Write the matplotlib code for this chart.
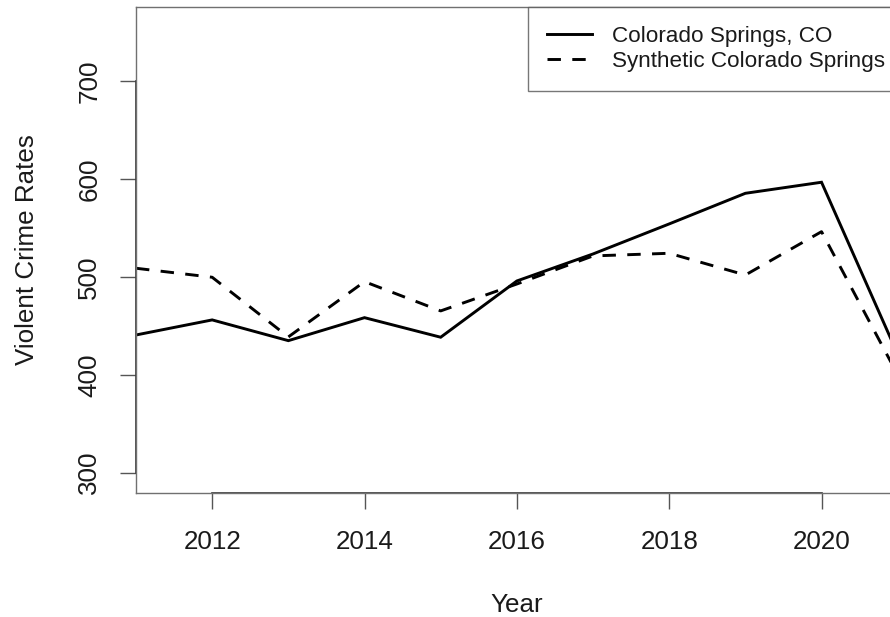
import matplotlib
matplotlib.use("Agg")
import matplotlib.pyplot as plt
import matplotlib.transforms as mtransforms

plt.rcParams['font.family'] = ['Liberation Sans', 'DejaVu Sans']

years = [2011, 2012, 2013, 2014, 2015, 2016, 2017, 2018, 2019, 2020, 2021]
actual = [440.7, 456.1, 434.9, 458.4, 438.4, 495.9, 523.5, 554.2, 585.5, 596.8, 421.0]
synthetic = [508.9, 499.7, 438.7, 495.2, 465.3, 492.8, 521.5, 524.2, 502.0, 546.3, 400.0]
series_labels = ["Colorado Springs, CO", "Synthetic Colorado Springs"]
xticks = [2012, 2014, 2016, 2018, 2020]
yticks = [300, 400, 500, 600, 700]

W, H = 890, 617
fig = plt.figure(figsize=(W / 100, H / 100), dpi=100)
left, right, top, bottom = 136, 897.7, 6.7, 493.3
ax = fig.add_axes([left / W, (H - bottom) / H, (right - left) / W, (bottom - top) / H])

txt = '#1a1a1a'
ax.plot(years, actual, color='black', lw=2.1, label=series_labels[0], solid_joinstyle='miter')
ax.plot(years, synthetic, color='black', lw=2.1, dashes=(4.6, 3.9), label=series_labels[1])

ax.set_xlim(2011, 2021)
ax.set_ylim(278.9, 776.2)
ax.set_xticks(xticks)
ax.set_yticks(yticks)
ax.set_xticklabels([str(v) for v in xticks])
ax.set_yticklabels([str(v) for v in yticks], rotation=90, va='center')

for s in ax.spines.values():
    s.set_color('#707070')
    s.set_linewidth(1.0)

ax.tick_params(axis='both', direction='out', length=11.5, width=1.0, color='#555555',
               labelsize=18.7, labelcolor=txt)
ax.tick_params(axis='x', pad=15)
ax.tick_params(axis='y', pad=13.6)

# R-style axis lines spanning first to last tick
tx = mtransforms.blended_transform_factory(ax.transData, ax.transAxes)
ty = mtransforms.blended_transform_factory(ax.transAxes, ax.transData)
ax.plot([xticks[0], xticks[-1]], [0, 0], transform=tx, color='#333333', lw=1.2, clip_on=False)
ax.plot([0, 0], [yticks[0], yticks[-1]], transform=ty, color='#333333', lw=1.2, clip_on=False)

ax.set_xlabel('Year', fontsize=18.7, color=txt, labelpad=28)
ax.set_ylabel('Violent Crime Rates', fontsize=18.7, color=txt, labelpad=27.4)

leg = ax.legend(loc='upper left', bbox_to_anchor=((528 - left) / (right - left), 1.0),
                borderaxespad=0, fancybox=False, frameon=True, fontsize=16.2,
                handlelength=2.0, handletextpad=0.89, borderpad=0.85, labelspacing=0.17)
leg.get_frame().set_edgecolor('#555555')
leg.get_frame().set_linewidth(1.0)
for t in leg.get_texts():
    t.set_color(txt)

fig.savefig('out.png', dpi=100)
